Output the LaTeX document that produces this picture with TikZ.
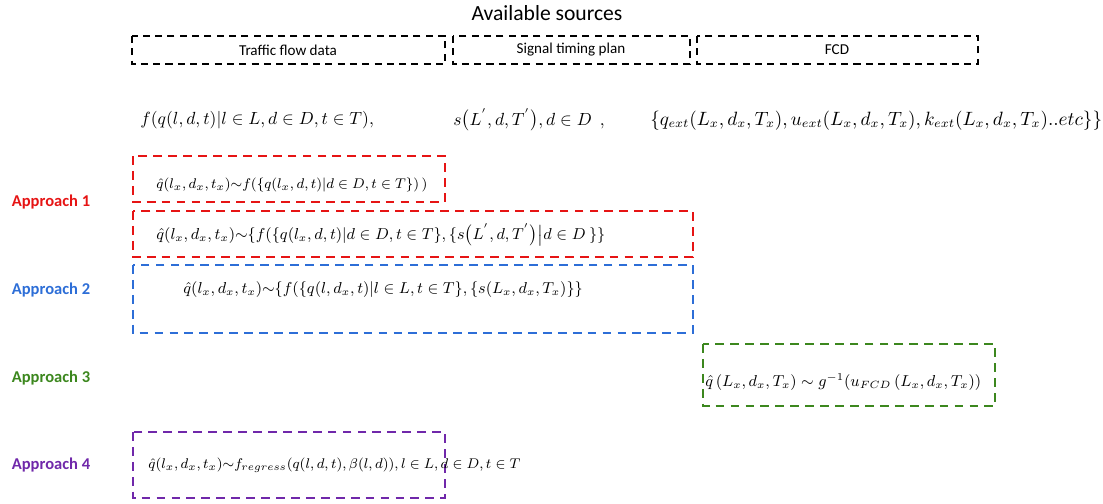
\documentclass[tikz,border=0pt]{standalone}
\usepackage{fontspec}
\setmainfont{Carlito}
\usetikzlibrary{positioning}
\definecolor{apred}{RGB}{230,20,20}
\definecolor{apblue}{RGB}{45,110,215}
\definecolor{apgreen}{RGB}{60,135,30}
\definecolor{appurple}{RGB}{112,40,170}
\begin{document}
\begin{tikzpicture}[x=0.02cm, y=-0.02cm,
  srcbox/.style={draw, thick, dash pattern=on 4pt off 3pt},
  apbox/.style={line width=1.4pt, dash pattern=on 5pt off 3.5pt},
  srclabel/.style={font=\fontsize{8.6}{10}\selectfont},
  formula/.style={anchor=west, inner sep=0pt, font=\fontsize{10}{12}\selectfont},
  apformula/.style={anchor=west, inner sep=0pt, font=\fontsize{8.8}{11}\selectfont},
  aplabel/.style={font=\bfseries\fontsize{9.4}{11}\selectfont}
]
  \useasboundingbox (0,0) rectangle (1103,504);
  \node[font=\fontsize{12.3}{14}\selectfont] (title) at (547,13) {Available sources};

  \draw[srcbox] (132,36) rectangle (445,64);
  \draw[srcbox] (453,36) rectangle (690,64);
  \draw[srcbox] (697,36) rectangle (978,64);
  \node[srclabel] (flow) at (288,50) {Traffic flow data};
  \node[srclabel] (signal) at (571,50) {Signal timing plan};
  \node[srclabel] (fcd) at (837,50) {FCD};

  \node[formula] (fflow) at (140,120) {$f(q(l,d,t)|l\in L,d\in D,t\in T),$};
  \node[formula] (fsignal) at (453,120) {$s\bigl(L^{'},d,T^{'}\bigr),d\in D\ \ ,$};
  \node[formula, font=\fontsize{10.5}{12}\selectfont] (ffcd) at (650,120) {$\{q_{ext}(L_x,d_x,T_x),u_{ext}(L_x,d_x,T_x),k_{ext}(L_x,d_x,T_x)..etc\}\bigr\}$};

  \draw[apbox, apred] (133,156) rectangle (445,202);
  \draw[apbox, apred] (133,211) rectangle (693,257);
  \draw[apbox, apblue] (133,265) rectangle (693,333);
  \draw[apbox, apgreen] (703,344) rectangle (995,406);
  \draw[apbox, appurple] (133,432) rectangle (445,498);

  \node[apformula, font=\fontsize{8.5}{11}\selectfont] (aone) at (156,185) {$\hat{q}(l_x,d_x,t_x){\sim}f(\{q(l_x,d,t)|d\in D,t\in T\})\,)$};
  \node[apformula] (aonesig) at (156,235) {$\hat{q}(l_x,d_x,t_x){\sim}\{f(\{q(l_x,d,t)|d\in D,t\in T\},\{s\bigl(L^{'},d,T^{'}\bigr)\bigr|d\in D\ \}\}$};
  \node[apformula] (atwo) at (183,290) {$\hat{q}(l_x,d_x,t_x){\sim}\{f(\{q(l,d_x,t)|l\in L,t\in T\},\{s(L_x,d_x,T_x)\}\}$};
  \node[apformula] (athree) at (705,382) {$\hat{q}\left(L_x,d_x,T_x\right)\sim g^{-1}(u_{FCD}\left(L_x,d_x,T_x\right))$};
  \node[apformula, font=\fontsize{8.3}{11}\selectfont] (afour) at (148,465) {$\hat{q}(l_x,d_x,t_x){\sim}f_{regress}(q(l,d,t),\beta(l,d)),l\in L,d\in D,t\in T$};

  \node[aplabel, apred] (lone) at (51,202) {Approach 1};
  \node[aplabel, apblue] (ltwo) at (51,290) {Approach 2};
  \node[aplabel, apgreen] (lthree) at (51,378) {Approach 3};
  \node[aplabel, appurple] (lfour) at (51,465) {Approach 4};
\end{tikzpicture}
\end{document}
